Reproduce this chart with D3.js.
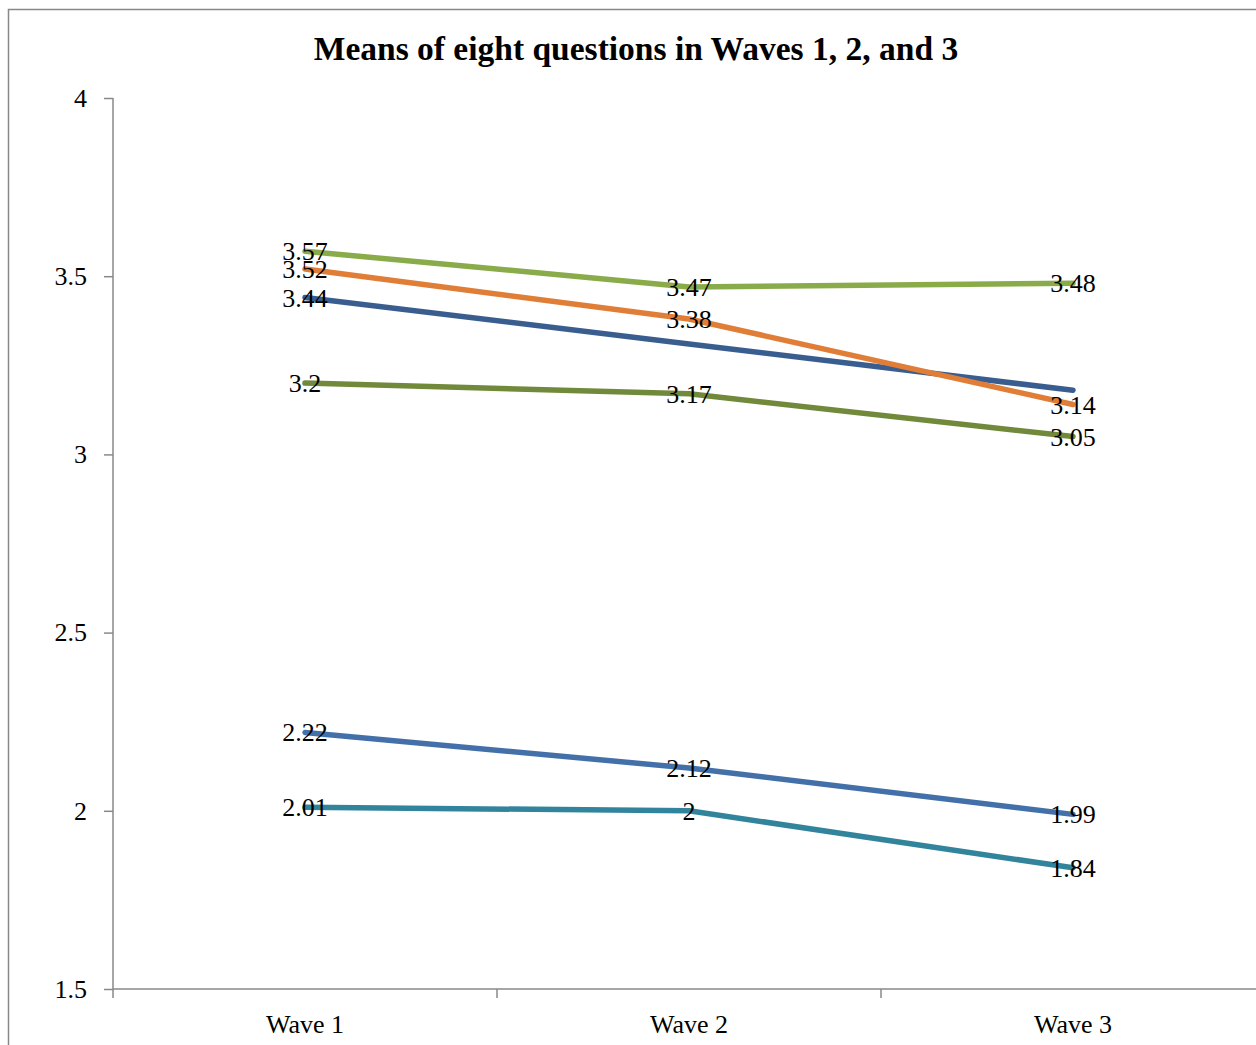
<!DOCTYPE html>
<html>
<head>
<meta charset="utf-8">
<script src="https://cdn.jsdelivr.net/npm/d3@7"></script>
<style>
  body { margin: 0; background: #fff; overflow: hidden; }
  svg { display: block; }
  .axis path, .axis line { stroke: #888; stroke-width: 1.5; }
  .axis text { font-family: "Liberation Serif", serif; font-size: 26px; fill: #000; }
  .data-label { font-family: "Liberation Serif", serif; font-size: 26px; fill: #000; }
  .series { fill: none; stroke-width: 5.5; stroke-linecap: round; stroke-linejoin: round; }
</style>
</head>
<body>
<script>
// chart data
const waves = ["Wave 1", "Wave 2", "Wave 3"];
const yTicks = [1.5, 2, 2.5, 3, 3.5, 4];

const lightGreen = [3.57, 3.47, 3.48];
const orange     = [3.52, 3.38, 3.14];
const darkBlue   = [3.44, 3.31, 3.18];
const olive      = [3.2, 3.17, 3.05];
const blue       = [2.22, 2.12, 1.99];
const teal       = [2.01, 2, 1.84];

// which points carry a label (dark blue only shows its first)
const series = [
  {name: "darkBlue",   values: darkBlue,   color: "#3a5d8f", labels: [true, false, false]},
  {name: "olive",      values: olive,      color: "#71893b", labels: [true, true, true]},
  {name: "blue",       values: blue,       color: "#4470aa", labels: [true, true, true]},
  {name: "teal",       values: teal,       color: "#31849b", labels: [true, true, true]},
  {name: "orange",     values: orange,     color: "#e07d37", labels: [true, true, true]},
  {name: "lightGreen", values: lightGreen, color: "#8aab4a", labels: [true, true, true]}
];

const W = 1256, H = 1045;
const margin = {top: 98, left: 113, bottom: H - 989};
const plotRight = 1265; // plot area runs past the right edge of the picture

const svg = d3.select("body").append("svg")
  .attr("width", W).attr("height", H);

// outer chart border (cropped at right and bottom)
svg.append("rect")
  .attr("x", 8.5).attr("y", 9.5)
  .attr("width", W + 20).attr("height", H + 20)
  .attr("fill", "none").attr("stroke", "#888").attr("stroke-width", 1.5);

const x = d3.scaleBand().domain(waves).range([margin.left, plotRight]);
const y = d3.scaleLinear().domain([1.5, 4]).range([989, margin.top]);

// y axis
const yAxis = svg.append("g").attr("class", "axis")
  .attr("transform", "translate(" + margin.left + ",0)")
  .call(d3.axisLeft(y).tickValues(yTicks).tickSize(9).tickPadding(17)
    .tickFormat(d => d3.format("")(d)));
yAxis.select(".domain").attr("d", "M0," + y(4) + "V" + y(1.5));

// x axis with ticks on category boundaries
const xAxis = svg.append("g").attr("class", "axis")
  .attr("transform", "translate(0,989)")
  .call(d3.axisBottom(x).tickSize(0).tickPadding(26));
xAxis.select(".domain").attr("d", "M" + margin.left + ",0H" + plotRight);
xAxis.selectAll(".bound")
  .data(waves)
  .enter().append("line")
  .attr("x1", d => x(d)).attr("x2", d => x(d))
  .attr("y1", 0).attr("y2", 9);
xAxis.selectAll(".tick text").attr("dy", "0.71em");

const cx = d => x(d) + x.bandwidth() / 2;

const line = d3.line()
  .x((d, i) => cx(waves[i]))
  .y(d => y(d));

svg.selectAll(".series")
  .data(series)
  .enter().append("path")
  .attr("class", "series")
  .attr("stroke", d => d.color)
  .attr("d", d => line(d.values));

// data labels, centred on points
const labelData = [];
series.forEach(s => s.values.forEach((v, i) => {
  if (s.labels[i]) labelData.push({v: v, wave: waves[i]});
}));

svg.selectAll(".data-label")
  .data(labelData)
  .enter().append("text")
  .attr("class", "data-label")
  .attr("x", d => cx(d.wave))
  .attr("y", d => y(d.v))
  .attr("dy", "0.35em")
  .attr("text-anchor", "middle")
  .text(d => d3.format("")(d.v));

// title
svg.append("text")
  .attr("x", 636).attr("y", 60)
  .attr("text-anchor", "middle")
  .style("font-family", "'Liberation Serif', serif")
  .style("font-weight", "bold")
  .style("font-size", "33.5px")
  .text("Means of eight questions in Waves 1, 2, and 3");
</script>
</body>
</html>
